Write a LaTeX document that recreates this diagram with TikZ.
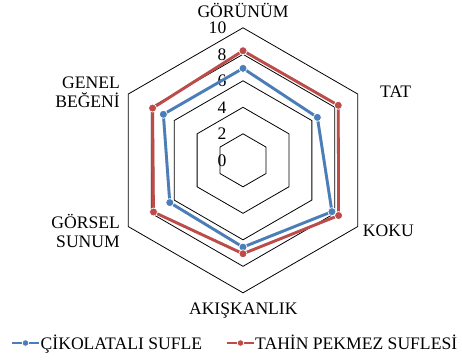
\documentclass[tikz,border=0pt]{standalone}
\usepackage{fontspec}
\setmainfont{Liberation Serif}
\definecolor{serblue}{HTML}{4A7EBB}
\definecolor{serred}{HTML}{BE4B48}
\begin{document}
\begin{tikzpicture}[x=1pt,y=-1pt,
  font=\fontsize{17.6}{20}\selectfont,
  grid/.style={black, line width=0.8pt, line join=miter},
  series/.style={line width=2.8pt, line join=round},
  shadowline/.style={line width=2.8pt, line join=round, black!45, opacity=0.5},
  mk/.style={circle, inner sep=0pt, minimum size=8pt, draw=white, line width=0.7pt},
  lbl/.style={inner sep=0pt},
  tick/.style={inner sep=0pt, anchor=east}]
\useasboundingbox (0,0) rectangle (462,360);
\begin{scope}[shift={(243,160.3)}, y=1pt]
  \def\u{13.25}
  % grid hexagons
  \foreach \k in {2,4,6,8,10} {
    \draw[grid] (90:\k*\u) -- (30:\k*\u) -- (-30:\k*\u) -- (-90:\k*\u)
      -- (-150:\k*\u) -- (150:\k*\u) -- cycle;
  }
  % tick labels
  \foreach \k in {0,2,4,6,8,10} {
    \node[tick] (t\k) at (-16.5,\k*\u) {\k};
  }
  % red series points
  \coordinate (r1) at (90:8.27*\u);
  \coordinate (r2) at (30:8.3*\u);
  \coordinate (r3) at (-30:8.33*\u);
  \coordinate (r4) at (-90:7.05*\u);
  \coordinate (r5) at (-150:7.8*\u);
  \coordinate (r6) at (150:7.88*\u);
  % blue series points
  \coordinate (b1) at (90:6.94*\u);
  \coordinate (b2) at (30:6.48*\u);
  \coordinate (b3) at (-30:7.75*\u);
  \coordinate (b4) at (-90:6.55*\u);
  \coordinate (b5) at (-150:6.38*\u);
  \coordinate (b6) at (150:6.94*\u);
  % shadows
  \begin{scope}[shift={(1.2,-1.6)}]
    \draw[shadowline] (b1) -- (b2) -- (b3) -- (b4) -- (b5) -- (b6) -- cycle;
    \draw[shadowline] (r1) -- (r2) -- (r3) -- (r4) -- (r5) -- (r6) -- cycle;
  \end{scope}
  \draw[series, serblue] (b1) -- (b2) -- (b3) -- (b4) -- (b5) -- (b6) -- cycle;
  \draw[series, serred] (r1) -- (r2) -- (r3) -- (r4) -- (r5) -- (r6) -- cycle;
  \foreach \i in {1,...,6} {
    \node[mk, fill=serblue] (mb\i) at (b\i) {};
  }
  \foreach \i in {1,...,6} {
    \node[mk, fill=serred] (mr\i) at (r\i) {};
  }
\end{scope}
% axis labels
\node[lbl, anchor=base] (gorunum) at (243,17) {GÖRÜNÜM};
\node[lbl, anchor=base west] (tat) at (380,97.7) {TAT};
\node[lbl, anchor=base west] (koku) at (362.7,236) {KOKU};
\node[lbl, anchor=base] (akis) at (243.3,314.5) {AKIŞKANLIK};
\node[lbl, anchor=base east] (genel1) at (120,88.3) {GENEL};
\node[lbl, anchor=base east] (genel2) at (120,107.8) {BEĞENİ};
\node[lbl, anchor=base east] (gorsel1) at (120,228.3) {GÖRSEL};
\node[lbl, anchor=base east] (gorsel2) at (120,247.8) {SUNUM};
% legend
\coordinate (lb1) at (12,343);
\coordinate (lb2) at (39,343);
\draw[serblue, line width=2.8pt] (lb1) -- (lb2);
\node[mk, fill=serblue, minimum size=6.5pt] (lbm) at (25.5,343) {};
\node[lbl, anchor=base west] (leg1) at (40.5,349.3) {ÇİKOLATALI SUFLE};
\coordinate (lr1) at (227,343);
\coordinate (lr2) at (254,343);
\draw[serred, line width=2.8pt] (lr1) -- (lr2);
\node[mk, fill=serred, minimum size=6.5pt] (lrm) at (240.5,343) {};
\node[lbl, anchor=base west] (leg2) at (255,349.3) {TAHİN PEKMEZ SUFLESİ};
\end{tikzpicture}
\end{document}
